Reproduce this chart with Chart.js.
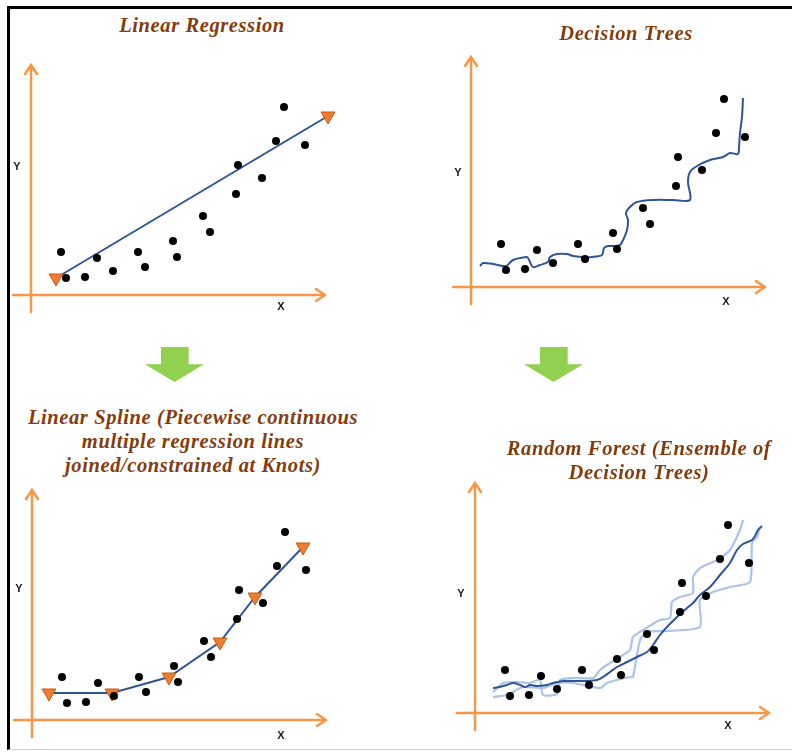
<!DOCTYPE html>
<html>
<head>
<meta charset="utf-8">
<script src="https://cdn.jsdelivr.net/npm/chart.js@4.4.1/dist/chart.umd.min.js"></script>
<style>
  html, body { margin: 0; padding: 0; background: #fff; }
  #page { position: relative; width: 792px; height: 753px; overflow: hidden; }
  #frame {
    position: absolute; left: 7px; top: 6px; width: 785px; height: 744px;
    box-sizing: border-box;
    border-top: 3px solid #000; border-left: 3px solid #000; border-bottom: 1px solid #d0d0d0;
  }
  canvas { position: absolute; }
  .title {
    position: absolute; transform: translateX(-50%);
    font-family: "Liberation Serif", "DejaVu Serif", serif;
    font-style: italic; font-weight: bold; font-size: 20.5px; line-height: 24px;
    letter-spacing: 0.6px;
    color: #843C0C; text-align: center; white-space: nowrap;
  }
  .down {
    position: absolute; width: 59px; height: 35px; background: #92D050;
    clip-path: polygon(27% 0, 74% 0, 74% 49%, 100% 49%, 50% 100%, 0 49%, 27% 49%);
  }
</style>
</head>
<body>
<div id="page">
  <div id="frame"></div>
  <div class="down" style="left:145px; top:347px;"></div>
  <div class="down" style="left:524px; top:347px;"></div>
</div>

<script>
// observations, same set in every panel (x right, y up, origin at the axes crossing)
const pointX = [30, 35, 54, 66, 82, 107, 114, 142, 146, 172, 179, 205, 207, 231, 245, 253, 274];
const pointY = [43, 17, 18, 37, 24, 43, 28, 54, 38, 79, 63, 101, 130, 117, 154, 188, 150];

// linear regression: one straight line, end points marked
const regX = [25, 297];
const regY = [17, 179];

// decision tree fit (wiggly step curve)
const treeX = [9, 12, 22, 35, 42, 55, 57, 62, 69, 77, 79, 86, 96, 102, 111, 121, 131, 133, 137, 142, 149, 153, 156, 157, 155, 159, 166, 182, 202, 219, 217, 219, 226, 239, 252, 259, 267, 268, 269, 271, 272];
const treeY = [21, 24, 23, 21, 27, 30, 29, 20, 22, 25, 30, 33, 33, 31, 30, 30, 32, 39, 41, 41, 42, 49, 57, 67, 74, 80, 85, 87, 87, 87, 105, 115, 121, 127, 130, 134, 133, 140, 154, 170, 189];

// linear spline knots
const knotX = [17, 80, 137, 188, 223, 271];
const knotY = [27, 27, 43, 78, 123, 173];

// random forest: averaged curve and two of the single trees
const forestX = [18, 25, 32, 38, 45, 50, 55, 62, 72, 78, 88, 98, 112, 122, 128, 135, 142, 152, 162, 172, 178, 185, 192, 202, 212, 218, 225, 235, 245, 255, 262, 268, 277, 280, 283, 287];
const forestY = [25, 26, 28, 30, 28, 26, 28, 27, 28, 30, 32, 32, 32, 33, 36, 41, 46, 51, 56, 61, 68, 78, 86, 96, 105, 110, 118, 126, 138, 150, 163, 169, 173, 177, 183, 187];
const treeAX = [18, 28, 42, 55, 65, 68, 82, 85, 98, 118, 125, 135, 145, 155, 158, 168, 185, 195, 197, 205, 218, 218, 225, 242, 255, 265, 268];
const treeAY = [21, 30, 31, 30, 33, 18, 19, 33, 35, 35, 43, 50, 56, 63, 76, 83, 93, 95, 111, 116, 120, 136, 145, 153, 163, 183, 193];
const treeBX = [18, 32, 48, 68, 82, 98, 125, 132, 142, 155, 158, 165, 172, 192, 225, 225, 238, 255, 275, 277, 282, 285];
const treeBY = [16, 18, 26, 25, 30, 30, 25, 30, 33, 36, 36, 73, 81, 82, 86, 113, 121, 126, 131, 170, 176, 186];

const titles = [
    ['Linear Regression'],
    ['Decision Trees'],
    ['Linear Spline (Piecewise continuous', 'multiple regression lines', 'joined/constrained at Knots)'],
    ['Random Forest (Ensemble of', 'Decision Trees)']
];

const BLUE = '#2F5597';
const LIGHT = '#ADC3E8';
const ORANGE = '#F79646';
const KNOT = '#ED7D31';

function pts(xs, ys) {
    return xs.map((x, i) => ({ x: x, y: ys[i] }));
}

function dots() {
    return { data: pts(pointX, pointY), pointRadius: 4, pointBackgroundColor: '#000', pointBorderWidth: 0, showLine: false, clip: false };
}

function curve(xs, ys, color, tension, width) {
    return { data: pts(xs, ys), showLine: true, borderColor: color, borderWidth: width || 2, pointRadius: 0, tension: tension, clip: false };
}

function knots(xs, ys) {
    return {
        data: pts(xs, ys), showLine: true, borderColor: BLUE, borderWidth: 2, tension: 0,
        pointStyle: 'triangle', rotation: 180, pointRadius: 8,
        pointBackgroundColor: KNOT, pointBorderColor: '#C55A11', pointBorderWidth: 1, clip: false
    };
}

// panel boxes on the page and where the axes cross inside them
const panels = [
    { left: 10, top: 50, width: 380, height: 280, ox: 31, oy: 295, yLab: [-14, 128], xLab: [250, -12],
      titleX: 202, titleY: 13,
      datasets: [dots(), knots(regX, regY)] },
    { left: 400, top: 40, width: 390, height: 290, ox: 471, oy: 287, yLab: [-13, 114], xLab: [255, -15],
      titleX: 626, titleY: 21,
      datasets: [dots(), curve(treeX, treeY, BLUE, 0.3)] },
    { left: 10, top: 478, width: 380, height: 270, ox: 32, oy: 720, yLab: [-13, 131], xLab: [249, -16],
      titleX: 193, titleY: 405,
      datasets: [dots(), knots(knotX, knotY)] },
    { left: 400, top: 478, width: 390, height: 270, ox: 475, oy: 713, yLab: [-14, 119], xLab: [253, -13],
      titleX: 639, titleY: 436,
      datasets: [dots(), curve(forestX, forestY, BLUE, 0.3), curve(treeAX, treeAY, LIGHT, 0.2, 2.2), curve(treeBX, treeBY, LIGHT, 0.2, 2.2)] }
];

// orange arrow axes with X / Y letters, drawn under the data
const arrowAxes = {
    id: 'arrowAxes',
    beforeDatasetsDraw(chart, args, opts) {
        const ctx = chart.ctx;
        const sx = chart.scales.x, sy = chart.scales.y;
        const px = v => sx.getPixelForValue(v);
        const py = v => sy.getPixelForValue(v);
        ctx.save();
        ctx.strokeStyle = ORANGE;
        ctx.lineWidth = 2.5;
        ctx.lineCap = 'round';
        // y axis
        ctx.beginPath();
        ctx.moveTo(px(0), py(-17));
        ctx.lineTo(px(0), py(230));
        ctx.moveTo(px(0) - 6, py(230) + 9);
        ctx.lineTo(px(0), py(230));
        ctx.lineTo(px(0) + 6, py(230) + 9);
        // x axis
        ctx.moveTo(px(-18), py(0));
        ctx.lineTo(px(294), py(0));
        ctx.moveTo(px(294) - 9, py(0) - 6);
        ctx.lineTo(px(294), py(0));
        ctx.lineTo(px(294) - 9, py(0) + 6);
        ctx.stroke();

        ctx.fillStyle = '#1a1a1a';
        ctx.font = 'bold 11px "Liberation Sans", Arial, sans-serif';
        ctx.textAlign = 'center';
        ctx.textBaseline = 'middle';
        ctx.fillText('Y', px(opts.yLab[0]), py(opts.yLab[1]));
        ctx.fillText('X', px(opts.xLab[0]), py(opts.xLab[1]));
        ctx.restore();
    }
};

const page = document.getElementById('page');

panels.forEach((p, i) => {
    const canvas = document.createElement('canvas');
    canvas.width = p.width;
    canvas.height = p.height;
    canvas.style.left = p.left + 'px';
    canvas.style.top = p.top + 'px';
    page.appendChild(canvas);

    const title = document.createElement('div');
    title.className = 'title';
    title.style.left = p.titleX + 'px';
    title.style.top = p.titleY + 'px';
    title.innerHTML = titles[i].join('<br>');
    page.appendChild(title);

    new Chart(canvas.getContext('2d'), {
        type: 'scatter',
        data: { datasets: p.datasets },
        options: {
            responsive: false,
            animation: false,
            layout: { padding: 0, autoPadding: false },
            scales: {
                // one data unit = one pixel, origin at (ox, oy)
                x: { type: 'linear', display: false, min: p.left - p.ox, max: p.left + p.width - p.ox },
                y: { type: 'linear', display: false, min: p.oy - (p.top + p.height), max: p.oy - p.top }
            },
            plugins: {
                legend: { display: false },
                tooltip: { enabled: false },
                arrowAxes: { yLab: p.yLab, xLab: p.xLab }
            }
        },
        plugins: [arrowAxes]
    });
});
</script>
</body>
</html>
